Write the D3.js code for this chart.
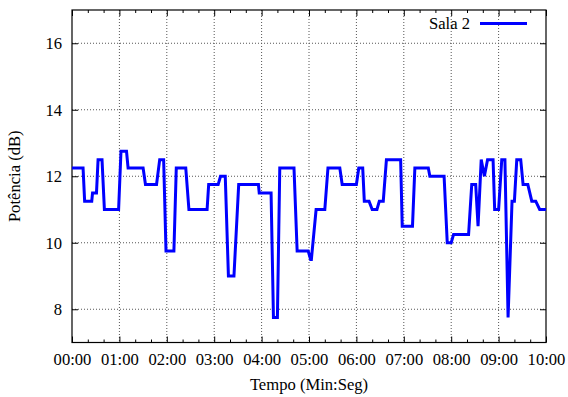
<!DOCTYPE html>
<html>
<head>
<meta charset="utf-8">
<script src="https://cdn.jsdelivr.net/npm/d3@7"></script>
<style>
  body { margin: 0; background: #fff; }
</style>
</head>
<body>
<div id="chart"></div>
<script>
// time in seconds, power in dB (corners)
const times = [0, 14, 16, 25, 26, 31, 33, 38, 41, 59, 62, 69, 71, 90, 93, 107, 111, 116, 119, 129,
  132, 144, 148, 171, 173, 185, 188, 194, 198, 205, 211, 236, 237, 252, 255, 260, 263, 281, 285, 299,
  302, 303, 309, 320, 324, 339, 342, 360, 363, 368, 370, 376, 380, 386, 389, 394, 398, 416, 418, 431,
  434, 451, 453, 471, 475, 480, 483, 502, 506, 511, 514, 518, 522, 526, 533, 535, 540, 544, 548, 552,
  557, 560, 563, 568, 571, 577, 582, 587, 592, 600];
const power = [12.25, 12.25, 11.25, 11.25, 11.5, 11.5, 12.5, 12.5, 11, 11, 12.75, 12.75, 12.25, 12.25, 11.75, 11.75, 12.5, 12.5, 9.75, 9.75,
  12.25, 12.25, 11, 11, 11.75, 11.75, 12, 12, 9, 9, 11.75, 11.75, 11.5, 11.5, 7.75, 7.75, 12.25, 12.25, 9.75, 9.75,
  9.5, 9.5, 11, 11, 12.25, 12.25, 11.75, 11.75, 12.25, 12.25, 11.25, 11.25, 11, 11, 11.25, 11.25, 12.5, 12.5, 10.5, 10.5,
  12.25, 12.25, 12, 12, 10, 10, 10.25, 10.25, 11.75, 11.75, 10.5, 12.5, 12, 12.5, 12.5, 11, 11, 12.5, 12.5, 7.75,
  11.25, 11.25, 12.5, 12.5, 11.75, 11.75, 11.25, 11.25, 11, 11];
const seriesName = "Sala 2";
const yTicks = [8, 10, 12, 14, 16];
const xMajor = d3.range(0, 601, 60);
const xMinor = d3.range(0, 601, 20).filter(t => t % 60 !== 0);

const width = 568, height = 397;
const margin = {top: 10, right: 22, bottom: 54.5, left: 72};
const w = width - margin.left - margin.right;
const h = height - margin.top - margin.bottom;
const FONT = "Liberation Serif";
const FS = 16.6;

const svg = d3.select("#chart").append("svg")
  .attr("width", width).attr("height", height)
  .attr("font-family", FONT);
const g = svg.append("g")
  .attr("transform", "translate(" + margin.left + "," + margin.top + ")");

const x = d3.scaleLinear([0, 600], [0, w]);
const y = d3.scaleLinear([7, 17], [h, 0]);

const fmt = t => d3.format("02d")(Math.floor(t / 60)) + ":" + d3.format("02d")(t % 60);

// grid
g.append("g").selectAll("line").data(xMajor.slice(1, -1)).join("line")
  .attr("x1", d => x(d)).attr("x2", d => x(d)).attr("y1", 0).attr("y2", h)
  .attr("stroke", "#555").attr("stroke-width", 1).attr("stroke-dasharray", "1,2");
g.append("g").selectAll("line").data(yTicks).join("line")
  .attr("x1", 0).attr("x2", w).attr("y1", d => y(d)).attr("y2", d => y(d))
  .attr("stroke", "#555").attr("stroke-width", 1).attr("stroke-dasharray", "1,2");

// axes (ticks inward, mirrored)
const axisStyle = (a) => a.call(s => s.select(".domain").remove())
  .call(s => s.selectAll("line").attr("stroke", "#000"));
g.append("g").attr("transform", `translate(0,${h})`)
  .call(d3.axisBottom(x).tickValues(xMajor).tickSize(-6).tickPadding(11).tickFormat(fmt))
  .call(axisStyle)
  .attr("font-size", FS);
g.append("g").attr("transform", `translate(0,${h})`)
  .call(d3.axisBottom(x).tickValues(xMinor).tickSize(-3).tickFormat(""))
  .call(axisStyle);
g.append("g")
  .call(d3.axisTop(x).tickValues(xMajor).tickSize(-6).tickFormat(""))
  .call(axisStyle);
g.append("g")
  .call(d3.axisTop(x).tickValues(xMinor).tickSize(-3).tickFormat(""))
  .call(axisStyle);
g.append("g")
  .call(d3.axisLeft(y).tickValues(yTicks).tickSize(-6).tickPadding(10).tickFormat(d3.format("d")))
  .call(axisStyle)
  .attr("font-size", FS);
g.append("g").attr("transform", `translate(${w},0)`)
  .call(d3.axisRight(y).tickValues(yTicks).tickSize(-6).tickFormat(""))
  .call(axisStyle);

// frame
g.append("rect").attr("width", w).attr("height", h)
  .attr("fill", "none").attr("stroke", "#000").attr("stroke-width", 1.2);

// series
const data = times.map((t, i) => [t, power[i]]);
const line = d3.line().x(d => x(d[0])).y(d => y(d[1]));
g.append("path").datum(data)
  .attr("fill", "none").attr("stroke", "#0000ff").attr("stroke-width", 3)
  .attr("stroke-linejoin", "miter").attr("d", line);

// legend
const lg = g.append("g");
lg.append("text").attr("x", 398).attr("y", 19).attr("text-anchor", "end")
  .attr("font-size", FS).text(seriesName);
lg.append("line").attr("x1", 408).attr("x2", 455).attr("y1", 13.5).attr("y2", 13.5)
  .attr("stroke", "#0000ff").attr("stroke-width", 3);

// axis titles
svg.append("text").attr("x", margin.left + w / 2).attr("y", 390)
  .attr("text-anchor", "middle").attr("font-size", FS).text("Tempo (Min:Seg)");
svg.append("text").attr("transform", `translate(20,${margin.top + h / 2}) rotate(-90)`)
  .attr("text-anchor", "middle").attr("font-size", FS).text("Potência (dB)");

svg.selectAll("g").attr("font-family", FONT);
svg.selectAll("text").attr("fill", "#000");
</script>
</body>
</html>
